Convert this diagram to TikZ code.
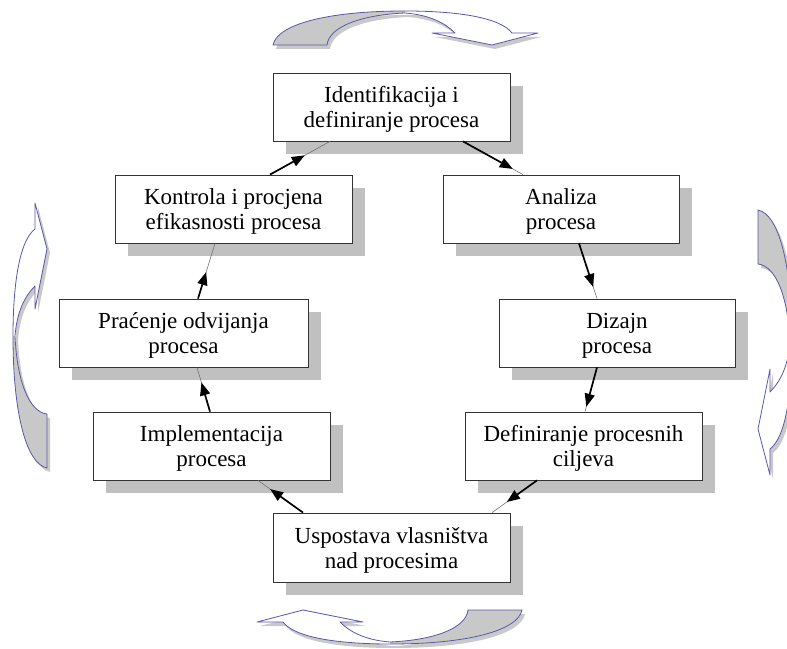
\documentclass[tikz,border=0pt]{standalone}
\usepackage{fontspec}
\setmainfont{Liberation Serif}
\usetikzlibrary{calc}
\usetikzlibrary{shadows}
\usetikzlibrary{arrows.meta}

\definecolor{ribbonline}{RGB}{88,88,170}
\definecolor{ribbonback}{RGB}{200,200,200}
\definecolor{boxshade}{RGB}{192,192,192}

\tikzset{
    stage/.style={rectangle, draw=black!80, fill=white, line width=0.8pt, minimum width=237pt, minimum height=68pt, align=center, text height=42pt, text depth=0pt, font=\fontsize{23pt}{25pt}\selectfont, drop shadow={shadow xshift=13pt, shadow yshift=-13pt, fill=boxshade, opacity=1}},
    faint/.style={draw=black!55, line width=0.6pt},
    flow/.style={draw=black, line width=1.7pt, -{Triangle[length=13pt,width=10pt]}},
    ribbon/.style={draw=ribbonline, line width=0.8pt, line join=round}
}

\newcommand{\flowarrow}[3]{%
    \draw [faint] (#1) -- (#2);
    \draw [flow] (#1) -- ($(#1)!#3!(#2)$);
}

\newcommand{\ribbonarrow}[1]{%
    \begin{scope}[shift={(3,-4)}]
        \begin{scope}[#1]
            \fill [black!30, opacity=0.7] (-132,0) .. controls (-128,20) and (-80,34) .. (0,34) .. controls (50,34) and (95,28) .. (107,12) -- (133,12) -- (87,0) -- (27,12) -- (50,12) .. controls (40,22) and (25,30) .. (0,32) .. controls (-45,30) and (-76,18) .. (-78,0) -- cycle;
        \end{scope}
    \end{scope}
    \begin{scope}[#1]
        \fill [white] (-132,0) .. controls (-128,20) and (-80,34) .. (0,34) .. controls (50,34) and (95,28) .. (107,12) -- (133,12) -- (87,0) -- (27,12) -- (50,12) .. controls (40,22) and (25,30) .. (0,32) .. controls (-45,30) and (-76,18) .. (-78,0) -- cycle;
        \fill [ribbonback] (-132,0) .. controls (-128,20) and (-80,34) .. (0,34) -- (0,32) .. controls (-45,30) and (-76,18) .. (-78,0) -- cycle;
        \draw [ribbon] (-132,0) .. controls (-128,20) and (-80,34) .. (0,34) .. controls (50,34) and (95,28) .. (107,12) -- (133,12) -- (87,0) -- (27,12) -- (50,12) .. controls (40,22) and (25,30) .. (0,32) .. controls (-45,30) and (-76,18) .. (-78,0) -- cycle;
    \end{scope}
}

\begin{document}
\begin{tikzpicture}[x=1pt, y=1pt]
    \useasboundingbox (0,0) rectangle (787,648);

    \ribbonarrow{shift={(405,603)}}
    \ribbonarrow{shift={(47,312)}, rotate=90}
    \ribbonarrow{shift={(758,306)}, rotate=-90}
    \ribbonarrow{shift={(390,38)}, rotate=180}

    \node [stage] (ident) at (391.5,541) {Identifikacija i\\definiranje procesa};
    \node [stage] (kontrola) at (233.5,439) {Kontrola i procjena\\efikasnosti procesa};
    \node [stage, minimum width=236pt] (analiza) at (561,439) {Analiza\\procesa};
    \node [stage, minimum width=249pt] (pracenje) at (183.5,315) {Praćenje odvijanja\\procesa};
    \node [stage, minimum width=236pt] (dizajn) at (617,315) {Dizajn\\procesa};
    \node [stage] (impl) at (211.5,202) {Implementacija\\procesa};
    \node [stage] (ciljevi) at (583.5,202) {Definiranje procesnih\\ciljeva};
    \node [stage, minimum height=69pt] (vlasnistvo) at (391.5,100.5) {Uspostava vlasništva\\nad procesima};

    \flowarrow{[xshift=36.5pt]kontrola.north}{[xshift=-61.5pt]ident.south}{0.58}
    \flowarrow{[xshift=71.5pt]ident.south}{[xshift=-38pt]analiza.north}{0.83}
    \flowarrow{[xshift=18pt]analiza.south}{[xshift=-20pt]dizajn.north}{0.79}
    \flowarrow{[xshift=-20pt]dizajn.south}{[xshift=1.5pt]ciljevi.north}{0.89}
    \flowarrow{[xshift=-46.5pt]ciljevi.south}{[xshift=100.5pt]vlasnistvo.north}{0.67}
    \flowarrow{[xshift=-88.5pt]vlasnistvo.north}{[xshift=46.5pt]impl.south}{0.73}
    \flowarrow{[xshift=-1.5pt]impl.north}{[xshift=13.5pt]pracenje.south}{0.66}
    \flowarrow{[xshift=14.5pt]pracenje.north}{[xshift=-18.5pt]kontrola.south}{0.48}
\end{tikzpicture}
\end{document}
